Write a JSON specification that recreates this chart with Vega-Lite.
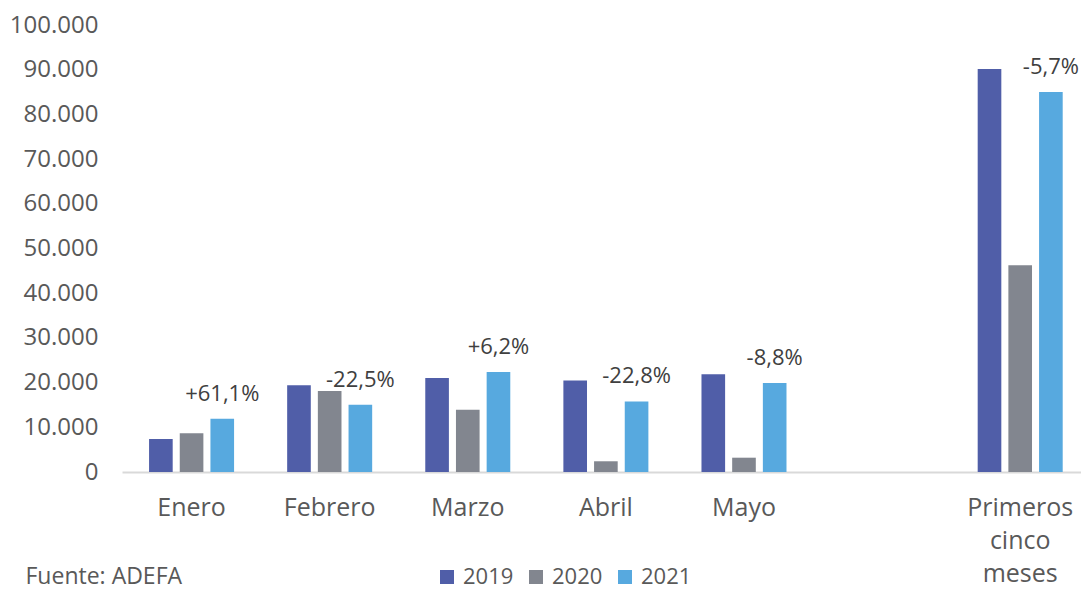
{
  "$schema": "https://vega.github.io/schema/vega-lite/v6.json",
  "width": 959,
  "height": 447,
  "autosize": {"type": "none"},
  "padding": {"left": 122, "top": 25, "right": 0, "bottom": 117},
  "background": "white",
  "config": {"view": {"stroke": null}, "font": "Open Sans"},
  "datasets": {
    "bars": [
      {"mes": "Enero", "anio": "2019", "valor": 7400},
      {"mes": "Enero", "anio": "2020", "valor": 8650},
      {"mes": "Enero", "anio": "2021", "valor": 11920},
      {"mes": "Febrero", "anio": "2019", "valor": 19400},
      {"mes": "Febrero", "anio": "2020", "valor": 18100},
      {"mes": "Febrero", "anio": "2021", "valor": 15030},
      {"mes": "Marzo", "anio": "2019", "valor": 21050},
      {"mes": "Marzo", "anio": "2020", "valor": 13900},
      {"mes": "Marzo", "anio": "2021", "valor": 22360},
      {"mes": "Abril", "anio": "2019", "valor": 20450},
      {"mes": "Abril", "anio": "2020", "valor": 2400},
      {"mes": "Abril", "anio": "2021", "valor": 15790},
      {"mes": "Mayo", "anio": "2019", "valor": 21850},
      {"mes": "Mayo", "anio": "2020", "valor": 3200},
      {"mes": "Mayo", "anio": "2021", "valor": 19930},
      {"mes": "Primeros cinco meses", "anio": "2019", "valor": 90150},
      {"mes": "Primeros cinco meses", "anio": "2020", "valor": 46250},
      {"mes": "Primeros cinco meses", "anio": "2021", "valor": 85030}
    ],
    "etiquetas": [
      {"mes": "Enero", "anio": "2021", "valor": 11920, "texto": "+61,1%"},
      {"mes": "Febrero", "anio": "2021", "valor": 15030, "texto": "-22,5%"},
      {"mes": "Marzo", "anio": "2021", "valor": 22360, "texto": "+6,2%"},
      {"mes": "Abril", "anio": "2021", "valor": 15790, "texto": "-22,8%"},
      {"mes": "Mayo", "anio": "2021", "valor": 19930, "texto": "-8,8%"},
      {"mes": "Primeros cinco meses", "anio": "2021", "valor": 85030, "texto": "-5,7%"}
    ]
  },
  "layer": [
    {
      "data": {"name": "bars"},
      "mark": {"type": "bar"},
      "encoding": {
        "x": {
          "field": "mes",
          "type": "nominal",
          "scale": {
            "domain": ["Enero", "Febrero", "Marzo", "Abril", "Mayo", "-", "Primeros cinco meses"],
            "paddingInner": 0.3,
            "paddingOuter": 0.122,
            "align": 0.63
          },
          "axis": {
            "labelAngle": 0,
            "labelFontSize": 25,
            "labelColor": "#595959",
            "labelPadding": 23,
            "labelLineHeight": 33,
            "labelExpr": "datum.value == 'Primeros cinco meses' ? ['Primeros', 'cinco', 'meses'] : (datum.value == '-' ? '' : datum.value)",
            "ticks": false,
            "domainColor": "#D9D9D9",
            "domainWidth": 2,
            "title": "Fuente: ADEFA",
            "titleFontSize": 23,
            "titleFontWeight": "normal",
            "titleColor": "#595959",
            "titleX": -97,
            "titleY": 111,
            "titleAlign": "left",
            "titleAnchor": "start",
            "titleBaseline": "alphabetic"
          }
        },
        "xOffset": {
          "field": "anio",
          "type": "nominal",
          "scale": {"domain": ["2019", "2020", "2021"], "paddingInner": 0.23, "paddingOuter": 0.19}
        },
        "y": {
          "field": "valor",
          "type": "quantitative",
          "scale": {"domain": [0, 100000], "nice": false},
          "axis": {
            "values": [0, 10000, 20000, 30000, 40000, 50000, 60000, 70000, 80000, 90000, 100000],
            "labelExpr": "replace(format(datum.value, ','), ',', '.')",
            "labelFontSize": 24,
            "labelColor": "#595959",
            "labelPadding": 24,
            "domain": false,
            "ticks": false,
            "grid": false,
            "title": null
          }
        },
        "color": {
          "field": "anio",
          "type": "nominal",
          "scale": {"domain": ["2019", "2020", "2021"], "range": ["#505EA8", "#82868F", "#57A9DF"]},
          "legend": {
            "orient": "none",
            "direction": "horizontal",
            "legendX": 314,
            "legendY": 541,
            "title": null,
            "symbolType": "square",
            "symbolSize": 196,
            "symbolStrokeWidth": 0,
            "labelFontSize": 22,
            "labelColor": "#595959",
            "labelOffset": 5,
            "columnPadding": 11
          }
        }
      }
    },
    {
      "data": {"name": "etiquetas"},
      "mark": {"type": "text", "fontSize": 22, "color": "#404040", "dy": -18, "baseline": "alphabetic", "align": "center"},
      "encoding": {
        "x": {"field": "mes", "type": "nominal"},
        "xOffset": {"field": "anio", "type": "nominal"},
        "y": {"field": "valor", "type": "quantitative"},
        "text": {"field": "texto", "type": "nominal"}
      }
    }
  ]
}
